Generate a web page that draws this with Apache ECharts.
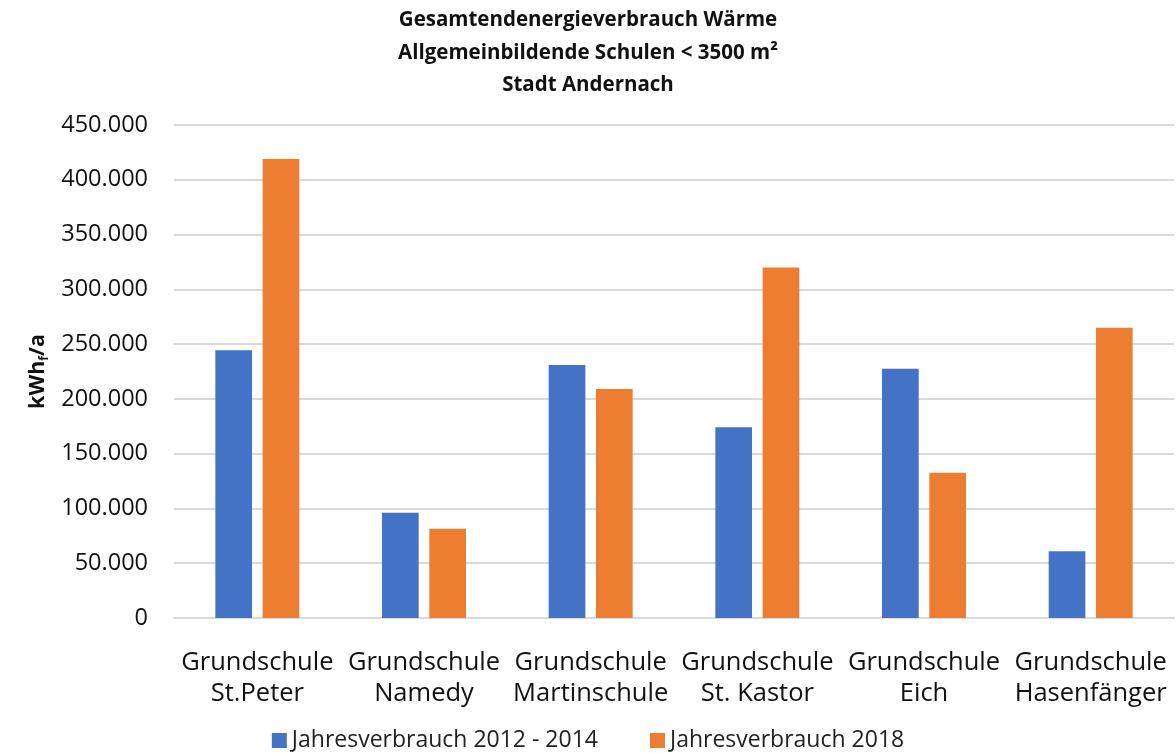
<!DOCTYPE html>
<html><head><meta charset="utf-8">
<script src="https://cdn.jsdelivr.net/npm/echarts@6/dist/echarts.min.js"></script>
<style>html,body{margin:0;padding:0;background:#fff}#c{width:1176px;height:753px}</style>
</head><body><div id="c"></div>
<script>
const categories = ['Grundschule\nSt.Peter','Grundschule\nNamedy','Grundschule\nMartinschule','Grundschule\nSt. Kastor','Grundschule\nEich','Grundschule\nHasenfänger'];
const seriesNames = ['Jahresverbrauch 2012 - 2014','Jahresverbrauch 2018'];
const values2012_2014 = [244500, 96000, 231000, 174000, 227500, 61000];
const values2018 = [419000, 81500, 209000, 320000, 132500, 265000];
const titleLines = ['Gesamtendenergieverbrauch Wärme','Allgemeinbildende Schulen < 3500 m²','Stadt Andernach'];

const fmt = v => String(v).replace(/\B(?=(\d{3})+(?!\d))/g, '.');
const FONT = '"Open Sans", "Noto Sans", sans-serif';
const chart = echarts.init(document.getElementById('c'));
chart.setOption({
  animation: false,
  textStyle: {fontFamily: FONT},
  title: {
    text: titleLines.join('\n'), left: 'center', top: -1,
    textStyle: {fontFamily: FONT, fontSize: 20.5, fontWeight: 'bold', color: '#111', lineHeight: 32.5}
  },
  grid: {left: 174, right: 2, top: 125, bottom: 135},
  legend: {
    bottom: -4, left: 'center', itemWidth: 15, itemHeight: 15, itemGap: 52, icon: 'rect',
    textStyle: {fontSize: 23, color: '#222', fontFamily: FONT}
  },
  xAxis: {
    type: 'category', data: categories,
    axisLine: {lineStyle: {color: '#d9d9d9', width: 2}}, axisTick: {show: false},
    axisLabel: {fontSize: 25.5, color: '#111', lineHeight: 31, margin: 29, interval: 0, fontFamily: FONT}
  },
  yAxis: {
    type: 'value', min: 0, max: 450000, interval: 50000,
    name: '{a|kWh}{b|f}{a|/a}', nameLocation: 'middle', nameRotate: 90, nameGap: 121,
    nameTextStyle: {rich: {
      a: {fontSize: 21.5, fontWeight: 'bold', color: '#111', fontFamily: FONT},
      b: {fontSize: 12, fontWeight: 'bold', color: '#111', fontFamily: FONT, padding: [12, 0, 0, 0]}
    }},
    axisLabel: {formatter: fmt, fontSize: 23.5, color: '#111', margin: 26, fontFamily: FONT},
    splitLine: {lineStyle: {color: '#d9d9d9', width: 2}},
    axisLine: {show: false}, axisTick: {show: false}
  },
  series: [
    {name: seriesNames[0], type: 'bar', data: values2012_2014, barWidth: '22%', barGap: '29%', itemStyle: {color: '#4472c4'}},
    {name: seriesNames[1], type: 'bar', data: values2018, barWidth: '22%', barGap: '29%', itemStyle: {color: '#ed7d31'}}
  ]
});
</script></body></html>
